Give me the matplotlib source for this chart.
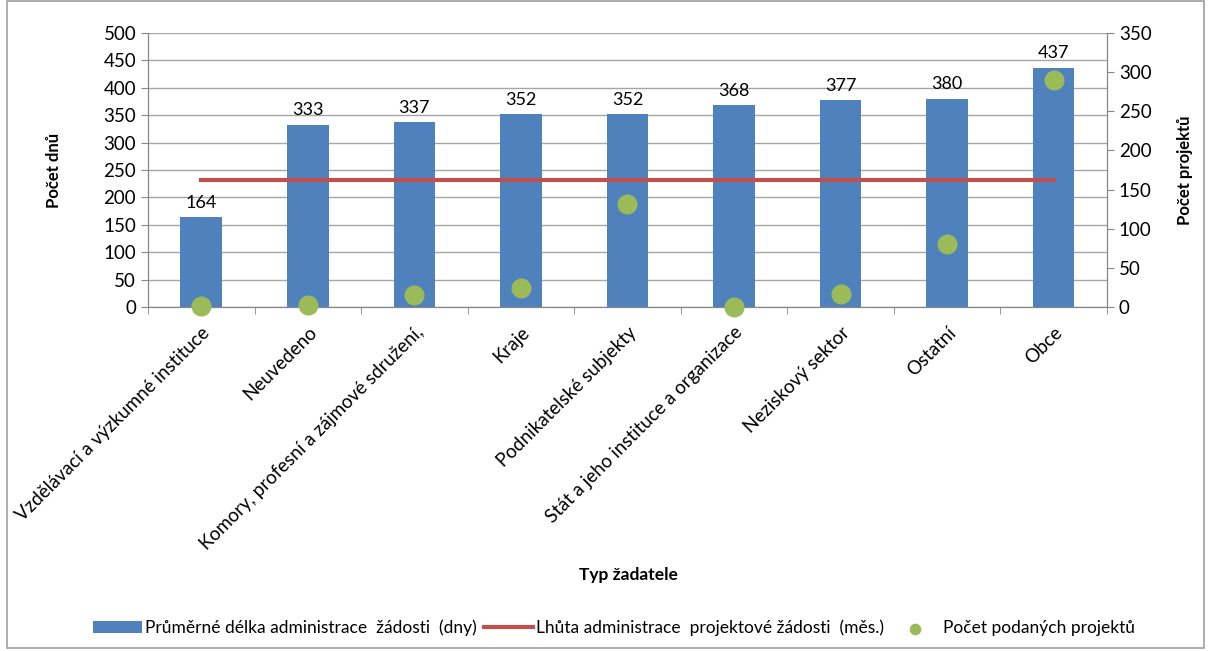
import matplotlib.pyplot as plt
import numpy as np
from matplotlib.patches import Rectangle

categories = [
    "Vzdělávací a výzkumné instituce",
    "Neuvedeno",
    "Komory, profesní a zájmové sdružení,",
    "Kraje",
    "Podnikatelské subjekty",
    "Stát a jeho instituce a organizace",
    "Neziskový sektor",
    "Ostatní",
    "Obce",
]
avg_days = [164, 333, 337, 352, 352, 368, 377, 380, 437]
deadline = [232] * 9
projects = [1, 2, 15, 24, 131, 0, 16, 81, 290]

plt.rcParams['font.family'] = ['Lato', 'DejaVu Sans']

fig = plt.figure(figsize=(12.09, 6.51), dpi=100)
ax = fig.add_axes([0.1224, 0.5284, 0.7932, 0.4209])
ax2 = ax.twinx()

x = np.arange(len(categories))
bars = ax.bar(x, avg_days, width=0.39, color="#4f81bd", zorder=2,
              label="Průměrné délka administrace  žádosti  (dny)")
ln, = ax.plot(x, deadline, color="#c0504d", lw=3, zorder=3,
              label="Lhůta administrace  projektové žádosti  (měs.)")
sc = ax2.scatter(x, projects, s=180, color="#9bbb59", zorder=4, clip_on=False,
                 label="Počet podaných projektů")

for xi, v in zip(x, avg_days):
    ax.text(xi, v + 12, str(v), ha="center", va="bottom", fontsize=13)

ax.set_xlim(-0.5, len(categories) - 0.5)
ax.set_ylim(0, 500)
ax.set_yticks(range(0, 501, 50))
ax2.set_ylim(0, 350)
ax2.set_yticks(range(0, 351, 50))

ax.set_xticks(x)
ax.set_xticklabels(categories, rotation=45, ha="right", rotation_mode="anchor",
                   fontsize=13.5)
ax.set_xticks(np.arange(-0.5, len(categories), 1), minor=True)
ax.tick_params(axis="x", which="major", length=0, pad=12)
ax.tick_params(axis="x", which="minor", length=5, color="#868686")
ax.tick_params(axis="y", length=5, color="#868686", labelsize=13.5)
ax2.tick_params(axis="y", length=5, color="#868686", labelsize=13.5)

ax.yaxis.grid(True, color="#a6a6a6", lw=1, zorder=0)
ax.set_axisbelow(True)
for a in (ax, ax2):
    a.spines["top"].set_visible(False)
    for s in ("left", "right", "bottom"):
        a.spines[s].set_color("#868686")

ax.set_ylabel("Počet dnů", fontweight="bold", fontsize=12, labelpad=30)
ax2.set_ylabel("Počet projektů", fontweight="bold", fontsize=12, labelpad=18)
fig.text(0.52, 0.117, "Typ žadatele", ha="center", va="center",
         fontweight="bold", fontsize=12.5)

fig.legend(handles=[bars, ln, sc], loc="center", bbox_to_anchor=(0.508, 0.035),
           ncol=3, frameon=False, fontsize=12.5, handlelength=2.8,
           columnspacing=0.4, handletextpad=0.2, markerscale=0.55)

fig.patches.append(Rectangle((0.006, 0.004), 0.99, 0.995, transform=fig.transFigure,
                             fill=False, edgecolor="#a0a0a0", lw=1.2))

fig.savefig("out.png", dpi=100)
